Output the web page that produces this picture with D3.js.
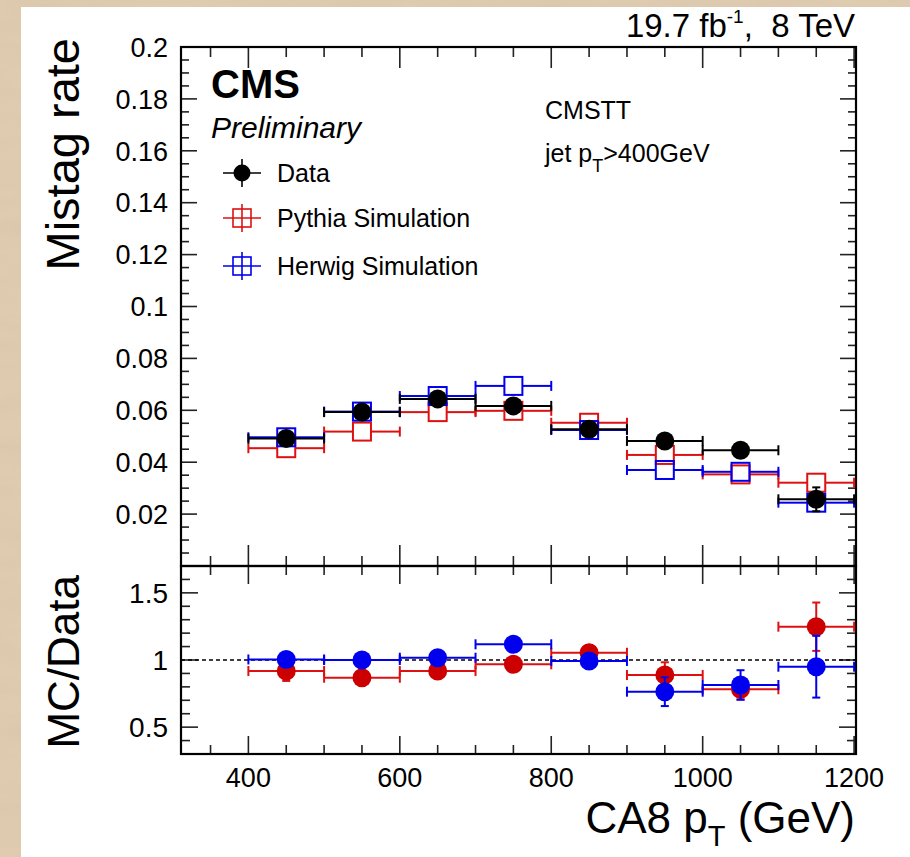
<!DOCTYPE html>
<html>
<head>
<meta charset="utf-8">
<script src="https://cdn.jsdelivr.net/npm/d3@7"></script>
<style>
  html, body { margin: 0; padding: 0; background: #dfcbb0; }
  svg { display: block; }
  text { font-family: "Liberation Sans", Arial, Helvetica, sans-serif; fill: #000; }
</style>
</head>
<body>
<svg id="chart" width="910" height="857"></svg>
<script>
// ---- data: mistag rate in bins of CA8 jet pT ----
const binLow  = [400, 500, 600, 700, 800, 900, 1000, 1100];
const binHigh = [500, 600, 700, 800, 900, 1000, 1100, 1200];
const binCenter = [450, 550, 650, 750, 850, 950, 1050, 1150];

const dataRate   = [0.0491, 0.0593, 0.0644, 0.0617, 0.0527, 0.0482, 0.0446, 0.0257];
const dataErr    = [0.0009, 0.0009, 0.0010, 0.0011, 0.0012, 0.0014, 0.0016, 0.0046];
const pythiaRate = [0.0454, 0.0518, 0.0593, 0.0598, 0.0552, 0.0428, 0.0353, 0.0321];
const pythiaErr  = [0.0006, 0.0006, 0.0007, 0.0008, 0.0009, 0.0010, 0.0012, 0.0020];
const herwigRate = [0.0496, 0.0595, 0.0655, 0.0694, 0.0524, 0.0370, 0.0363, 0.0244];
const herwigErr  = [0.0006, 0.0006, 0.0007, 0.0008, 0.0009, 0.0010, 0.0012, 0.0020];

// MC / Data ratio
const pythiaRatio    = [0.918, 0.868, 0.918, 0.968, 1.054, 0.888, 0.782, 1.248];
const pythiaRatioErr = [0.074, 0.045, 0.040, 0.045, 0.055, 0.095, 0.075, 0.180];
const herwigRatio    = [1.004, 1.000, 1.017, 1.117, 0.993, 0.764, 0.814, 0.950];
const herwigRatioErr = [0.045, 0.045, 0.040, 0.045, 0.055, 0.107, 0.110, 0.230];

// ---- axis ticks ----
const xMajor = [400, 600, 800, 1000, 1200];
const xMinor = [350, 450, 500, 550, 650, 700, 750, 850, 900, 950, 1050, 1100, 1150];
const xLabels = ["400", "600", "800", "1000", "1200"];
const yTopMajor = [0.02, 0.04, 0.06, 0.08, 0.10, 0.12, 0.14, 0.16, 0.18, 0.20];
const yTopLabels = ["0.02", "0.04", "0.06", "0.08", "0.1", "0.12", "0.14", "0.16", "0.18", "0.2"];
const yRatioMajor = [0.5, 1.0, 1.5];
const yRatioLabels = ["0.5", "1", "1.5"];

const red = "#dd1111", redFill = "#cc0000", blue = "#0000ee";

// ---- layout ----
const svg = d3.select("#chart");

// parchment-like backdrop around the white canvas
const defs = svg.append("defs");
const f = defs.append("filter").attr("id", "grain").attr("x", 0).attr("y", 0).attr("width", "100%").attr("height", "100%");
f.append("feTurbulence").attr("type", "fractalNoise").attr("baseFrequency", "0.012 0.05").attr("numOctaves", 3).attr("seed", 4);
f.append("feColorMatrix").attr("type", "matrix")
  .attr("values", "0 0 0 0 0.55  0 0 0 0 0.45  0 0 0 0 0.33  0 0 0 -0.9 0.55");
f.append("feComposite").attr("in2", "SourceGraphic").attr("operator", "in");
svg.append("rect").attr("width", 910).attr("height", 857).attr("fill", "#dfcbb0");
svg.append("rect").attr("width", 910).attr("height", 857).attr("fill", "#dfcbb0").attr("filter", "url(#grain)").attr("opacity", 0.35);
svg.append("rect").attr("x", 21).attr("y", 7).attr("width", 889).attr("height", 850).attr("fill", "#fff");

const x = d3.scaleLinear().domain([311, 1202.5]).range([181, 856]);
const yTop = d3.scaleLinear().domain([0, 0.2]).range([566, 47]);
const yRat = d3.scaleLinear().domain([0.3, 1.7]).range([754, 566]);

const yTopMinor = d3.range(0.005, 0.2, 0.005).filter(v => Math.abs(v / 0.02 - Math.round(v / 0.02)) > 1e-6);
const yRatMinor = d3.range(0.4, 1.7, 0.1).filter(v => Math.abs(v * 2 - Math.round(v * 2)) > 1e-6);

function frameTicks(g, y, yMaj, yMin, len) {
  const [yb, yt] = y.range();
  const xl = x.range()[0], xr = x.range()[1];
  const t = g.append("g").attr("stroke", "#222").attr("stroke-width", 1.6);
  xMajor.forEach(v => {
    t.append("line").attr("x1", x(v)).attr("x2", x(v)).attr("y1", yb).attr("y2", yb - len.xMaj);
    t.append("line").attr("x1", x(v)).attr("x2", x(v)).attr("y1", yt).attr("y2", yt + len.xMaj);
  });
  xMinor.forEach(v => {
    t.append("line").attr("x1", x(v)).attr("x2", x(v)).attr("y1", yb).attr("y2", yb - len.xMin);
    t.append("line").attr("x1", x(v)).attr("x2", x(v)).attr("y1", yt).attr("y2", yt + len.xMin);
  });
  yMaj.forEach(v => {
    t.append("line").attr("x1", xl).attr("x2", xl + len.yMaj).attr("y1", y(v)).attr("y2", y(v));
    t.append("line").attr("x1", xr).attr("x2", xr - len.yMaj).attr("y1", y(v)).attr("y2", y(v));
  });
  yMin.forEach(v => {
    t.append("line").attr("x1", xl).attr("x2", xl + len.yMin).attr("y1", y(v)).attr("y2", y(v));
    t.append("line").attr("x1", xr).attr("x2", xr - len.yMin).attr("y1", y(v)).attr("y2", y(v));
  });
  g.append("rect").attr("x", xl).attr("y", yt).attr("width", xr - xl).attr("height", yb - yt)
    .attr("fill", "none").attr("stroke", "#000").attr("stroke-width", 2.2);
}

const gTop = svg.append("g");
const gRat = svg.append("g");
frameTicks(gTop, yTop, yTopMajor, yTopMinor, {xMaj: 21, xMin: 10, yMaj: 16, yMin: 8});
frameTicks(gRat, yRat, yRatioMajor, yRatMinor, {xMaj: 18, xMin: 9, yMaj: 17, yMin: 9});

// tick labels
gTop.append("g").selectAll("text").data(yTopMajor).join("text")
  .attr("x", 168).attr("y", d => yTop(d)).attr("dy", "0.36em").attr("text-anchor", "end")
  .attr("font-size", 27).text((d, i) => yTopLabels[i]);
gRat.append("g").selectAll("text").data(yRatioMajor).join("text")
  .attr("x", 168).attr("y", d => yRat(d)).attr("dy", "0.36em").attr("text-anchor", "end")
  .attr("font-size", 28).text((d, i) => yRatioLabels[i]);
gRat.append("g").selectAll("text").data(xMajor).join("text")
  .attr("x", d => x(d)).attr("y", 787).attr("text-anchor", "middle")
  .attr("font-size", 27).text((d, i) => xLabels[i]);

// axis titles
svg.append("text").attr("transform", "translate(79,38) rotate(-90)").attr("text-anchor", "end")
  .attr("font-size", 47).text("Mistag rate");
svg.append("text").attr("transform", "translate(79,575) rotate(-90)").attr("text-anchor", "end")
  .attr("font-size", 44).text("MC/Data");
const xt = svg.append("text").attr("x", 855).attr("y", 833).attr("text-anchor", "end").attr("font-size", 44);
xt.append("tspan").text("CA8 p");
xt.append("tspan").attr("font-size", 29).attr("dy", 13).text("T");
xt.append("tspan").attr("dy", -13).text(" (GeV)");

// luminosity / energy label
const lumi = svg.append("text").attr("x", 855).attr("y", 37).attr("text-anchor", "end").attr("font-size", 33);
lumi.append("tspan").text("19.7 fb");
lumi.append("tspan").attr("font-size", 19).attr("dy", -14).text("-1");
lumi.append("tspan").attr("dy", 14).text(",\u00a0\u00a08 TeV");

// CMS labels
svg.append("text").attr("x", 211).attr("y", 98).attr("font-size", 40).attr("font-weight", "bold").text("CMS");
svg.append("text").attr("x", 211).attr("y", 138).attr("font-size", 30).attr("font-style", "italic").text("Preliminary");
svg.append("text").attr("x", 545).attr("y", 119).attr("font-size", 25).text("CMSTT");
const cut = svg.append("text").attr("x", 545).attr("y", 162).attr("font-size", 25);
cut.append("tspan").text("jet p");
cut.append("tspan").attr("font-size", 18).attr("dy", 10).text("T");
cut.append("tspan").attr("dy", -10).text(">400GeV");

// ---- error-bar helpers ----
function errorBars(g, y, vals, errs, color, gap, capV) {
  vals.forEach((v, i) => {
    const cx = x(binCenter[i]), cy = y(v);
    const xl = x(binLow[i]), xh = x(binHigh[i]);
    const s = g.append("g").attr("stroke", color).attr("stroke-width", 2);
    s.append("line").attr("x1", xl).attr("x2", cx - gap).attr("y1", cy).attr("y2", cy);
    s.append("line").attr("x1", cx + gap).attr("x2", xh).attr("y1", cy).attr("y2", cy);
    s.append("line").attr("x1", xl).attr("x2", xl).attr("y1", cy - 5).attr("y2", cy + 5);
    s.append("line").attr("x1", xh).attr("x2", xh).attr("y1", cy - 5).attr("y2", cy + 5);
    const yu = y(v + errs[i]), yd = y(v - errs[i]);
    if (cy - yu > gap) {
      s.append("line").attr("x1", cx).attr("x2", cx).attr("y1", cy - gap).attr("y2", yu);
      s.append("line").attr("x1", cx - capV).attr("x2", cx + capV).attr("y1", yu).attr("y2", yu);
    }
    if (yd - cy > gap) {
      s.append("line").attr("x1", cx).attr("x2", cx).attr("y1", cy + gap).attr("y2", yd);
      s.append("line").attr("x1", cx - capV).attr("x2", cx + capV).attr("y1", yd).attr("y2", yd);
    }
  });
}
function openSquares(g, y, vals, color) {
  g.append("g").selectAll("rect").data(vals).join("rect")
    .attr("x", (d, i) => x(binCenter[i]) - 9).attr("y", d => y(d) - 9)
    .attr("width", 18).attr("height", 18)
    .attr("fill", "none").attr("stroke", color).attr("stroke-width", 2);
}
function dots(g, y, vals, color) {
  g.append("g").selectAll("circle").data(vals).join("circle")
    .attr("cx", (d, i) => x(binCenter[i])).attr("cy", d => y(d)).attr("r", 9.5).attr("fill", color);
}

// ---- upper panel ----
const pTop = svg.append("g");
errorBars(pTop, yTop, pythiaRate, pythiaErr, red, 9, 4);
openSquares(pTop, yTop, pythiaRate, red);
errorBars(pTop, yTop, herwigRate, herwigErr, blue, 9, 4);
openSquares(pTop, yTop, herwigRate, blue);
errorBars(pTop, yTop, dataRate, dataErr, "#000", 0, 4);
dots(pTop, yTop, dataRate, "#000");

// legend
const lg = svg.append("g");
const legendRows = [
  {label: "Data", y: 173, color: "#000", kind: "dot"},
  {label: "Pythia Simulation", y: 218, color: red, kind: "sq"},
  {label: "Herwig Simulation", y: 266, color: blue, kind: "sq"}
];
legendRows.forEach(r => {
  const cx = 242;
  const s = lg.append("g").attr("stroke", r.color).attr("stroke-width", 1.6);
  s.append("line").attr("x1", cx - 19).attr("x2", cx + 19).attr("y1", r.y).attr("y2", r.y);
  s.append("line").attr("x1", cx).attr("x2", cx).attr("y1", r.y - 14).attr("y2", r.y + 14);
  if (r.kind === "dot") {
    lg.append("circle").attr("cx", cx).attr("cy", r.y).attr("r", 8.5).attr("fill", r.color);
  } else {
    lg.append("rect").attr("x", cx - 9).attr("y", r.y - 9).attr("width", 18).attr("height", 18)
      .attr("fill", "none").attr("stroke", r.color).attr("stroke-width", 1.6);
  }
  lg.append("text").attr("x", 277).attr("y", r.y).attr("dy", "0.36em").attr("font-size", 25).text(r.label);
});

// ---- ratio panel ----
const pRat = svg.append("g");
pRat.append("line").attr("x1", x.range()[0]).attr("x2", x.range()[1]).attr("y1", yRat(1)).attr("y2", yRat(1))
  .attr("stroke", "#000").attr("stroke-width", 1.5).attr("stroke-dasharray", "4,3");
errorBars(pRat, yRat, pythiaRatio, pythiaRatioErr, red, 0, 4);
dots(pRat, yRat, pythiaRatio, redFill);
errorBars(pRat, yRat, herwigRatio, herwigRatioErr, blue, 0, 4);
dots(pRat, yRat, herwigRatio, blue);
</script>
</body>
</html>
